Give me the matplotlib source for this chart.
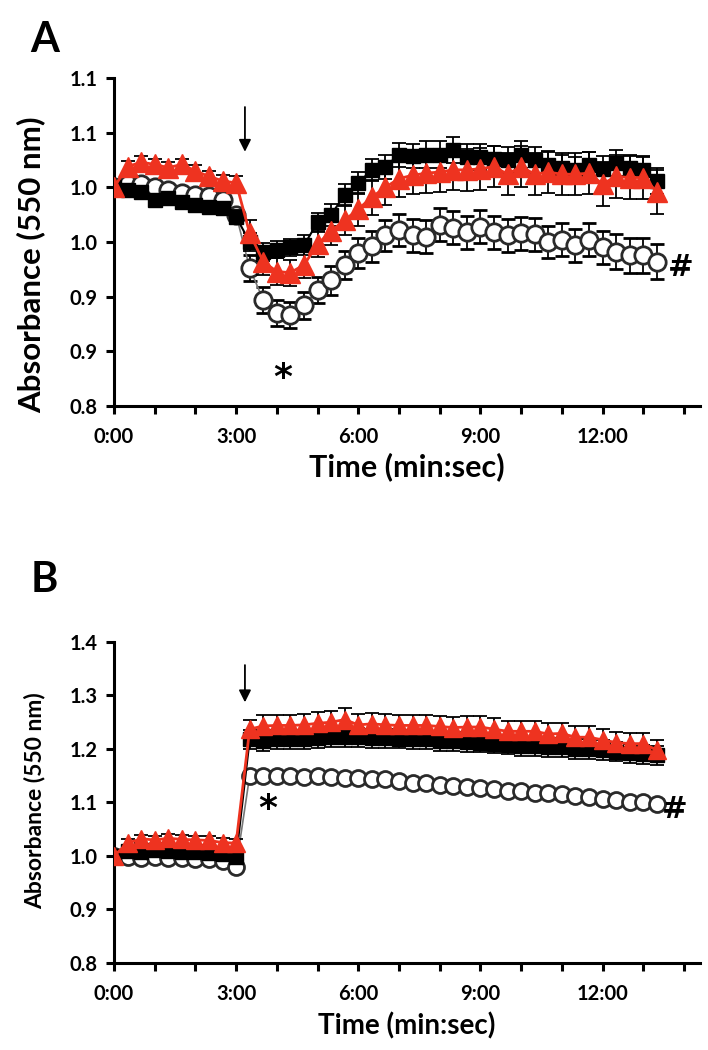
import matplotlib
matplotlib.use("Agg")
import matplotlib.pyplot as plt
import numpy as np
from matplotlib.ticker import MultipleLocator, FuncFormatter, FixedLocator

plt.rcParams['font.family'] = ['Lato', 'DejaVu Sans']
plt.rcParams['font.weight'] = 'bold'

# time in seconds (every 20 s)
time_s = list(range(0, 801, 20))

# ---------- Panel A ----------
a_red = [1.000, 1.019, 1.023, 1.021, 1.018, 1.021, 1.015, 1.010, 1.006, 1.004,
         0.958, 0.932, 0.923, 0.922, 0.929, 0.948, 0.960, 0.970, 0.980, 0.991,
         1.000, 1.008, 1.011, 1.013, 1.014, 1.016, 1.016, 1.017, 1.019, 1.012,
         1.019, 1.012, 1.014, 1.012, 1.012, 1.013, 1.003, 1.010, 1.009, 1.009,
         0.996]
a_red_err = [0.003, 0.005, 0.006, 0.005, 0.005, 0.005, 0.005, 0.005, 0.005, 0.006,
             0.012, 0.012, 0.012, 0.012, 0.012, 0.012, 0.013, 0.014, 0.015, 0.016,
             0.016, 0.017, 0.017, 0.018, 0.018, 0.018, 0.019, 0.019, 0.019, 0.019,
             0.019, 0.019, 0.019, 0.019, 0.019, 0.019, 0.020, 0.020, 0.020, 0.020,
             0.020]
a_black = [1.000, 0.998, 0.996, 0.988, 0.990, 0.987, 0.984, 0.982, 0.981, 0.973,
           0.950, 0.941, 0.943, 0.945, 0.947, 0.968, 0.975, 0.993, 1.004, 1.016,
           1.019, 1.030, 1.029, 1.030, 1.030, 1.034, 1.028, 1.028, 1.026, 1.025,
           1.030, 1.025, 1.020, 1.018, 1.016, 1.020, 1.017, 1.022, 1.018, 1.016,
           1.006]
a_black_err = [0.003, 0.005, 0.005, 0.005, 0.005, 0.005, 0.005, 0.005, 0.006, 0.006,
               0.008, 0.008, 0.008, 0.008, 0.009, 0.009, 0.010, 0.010, 0.010, 0.010,
               0.011, 0.011, 0.011, 0.012, 0.012, 0.012, 0.012, 0.012, 0.012, 0.012,
               0.012, 0.012, 0.012, 0.012, 0.012, 0.012, 0.012, 0.012, 0.012, 0.012,
               0.012]
a_open = [1.000, 1.003, 1.003, 1.000, 0.998, 0.995, 0.993, 0.992, 0.988, 0.975,
          0.926, 0.897, 0.885, 0.883, 0.892, 0.906, 0.915, 0.929, 0.940, 0.946,
          0.956, 0.961, 0.956, 0.955, 0.966, 0.963, 0.959, 0.964, 0.959, 0.956,
          0.958, 0.957, 0.950, 0.952, 0.947, 0.952, 0.945, 0.941, 0.938, 0.938,
          0.932]
a_open_err = [0.003, 0.004, 0.004, 0.004, 0.004, 0.004, 0.004, 0.004, 0.005, 0.005,
              0.012, 0.012, 0.012, 0.012, 0.012, 0.012, 0.013, 0.013, 0.014, 0.014,
              0.014, 0.015, 0.015, 0.015, 0.015, 0.015, 0.015, 0.015, 0.015, 0.015,
              0.015, 0.015, 0.015, 0.015, 0.015, 0.015, 0.015, 0.016, 0.016, 0.016,
              0.016]

# ---------- Panel B ----------
b_red = [1.000, 1.024, 1.032, 1.030, 1.033, 1.031, 1.030, 1.029, 1.025, 1.024,
         1.237, 1.243, 1.244, 1.244, 1.245, 1.248, 1.250, 1.255, 1.245, 1.247,
         1.245, 1.244, 1.244, 1.244, 1.242, 1.240, 1.241, 1.241, 1.237, 1.233,
         1.233, 1.233, 1.228, 1.229, 1.222, 1.222, 1.217, 1.212, 1.210, 1.210,
         1.198]
b_red_err = [0.004, 0.008, 0.008, 0.008, 0.008, 0.008, 0.008, 0.008, 0.008, 0.008,
             0.018, 0.020, 0.020, 0.020, 0.020, 0.021, 0.021, 0.022, 0.020, 0.020,
             0.020, 0.020, 0.020, 0.020, 0.020, 0.020, 0.020, 0.020, 0.020, 0.020,
             0.020, 0.020, 0.020, 0.020, 0.020, 0.020, 0.020, 0.020, 0.020, 0.020,
             0.018]
b_black = [1.000, 1.010, 1.008, 1.012, 1.010, 1.008, 1.008, 1.006, 1.003, 0.998,
           1.218, 1.215, 1.218, 1.218, 1.218, 1.220, 1.222, 1.222, 1.222, 1.220,
           1.220, 1.219, 1.218, 1.218, 1.214, 1.214, 1.213, 1.212, 1.210, 1.208,
           1.205, 1.205, 1.203, 1.203, 1.200, 1.200, 1.198, 1.195, 1.192, 1.190,
           1.188]
b_black_err = [0.003, 0.008, 0.008, 0.008, 0.008, 0.008, 0.008, 0.008, 0.008, 0.008,
               0.018, 0.018, 0.018, 0.018, 0.018, 0.018, 0.018, 0.018, 0.018, 0.018,
               0.018, 0.018, 0.018, 0.018, 0.018, 0.018, 0.018, 0.018, 0.018, 0.018,
               0.018, 0.018, 0.018, 0.018, 0.018, 0.018, 0.018, 0.018, 0.018, 0.018,
               0.018]
b_open = [1.000, 0.998, 0.997, 0.998, 0.997, 0.996, 0.995, 0.994, 0.990, 0.980,
          1.150, 1.150, 1.150, 1.150, 1.148, 1.149, 1.148, 1.146, 1.146, 1.143,
          1.143, 1.140, 1.137, 1.136, 1.133, 1.130, 1.128, 1.127, 1.125, 1.122,
          1.121, 1.118, 1.117, 1.115, 1.112, 1.110, 1.106, 1.104, 1.101, 1.100,
          1.098]
b_open_err = [0.003, 0.005, 0.005, 0.005, 0.005, 0.005, 0.005, 0.005, 0.005, 0.005,
              0.008, 0.008, 0.008, 0.008, 0.008, 0.008, 0.008, 0.008, 0.008, 0.008,
              0.008, 0.008, 0.008, 0.008, 0.008, 0.008, 0.008, 0.008, 0.008, 0.008,
              0.008, 0.008, 0.008, 0.008, 0.008, 0.008, 0.008, 0.008, 0.008, 0.008,
              0.008]

x_tick_labels = ["0:00", "3:00", "6:00", "9:00", "12:00"]
RED = "#ee3320"

fig = plt.figure(figsize=(7.08, 10.5), dpi=100)
axA = fig.add_axes([0.161, 0.6133, 0.828, 0.3124])
axB = fig.add_axes([0.161, 0.0829, 0.828, 0.3057])


def draw(ax, red, red_err, black, black_err, opn, opn_err, ms_scale=1.0):
    t = np.array(time_s)
    ax.errorbar(t, opn, yerr=opn_err, fmt='-', color='#777777', lw=1.2,
                ecolor='black', elinewidth=1.3, capsize=5, capthick=1.3,
                marker='o', ms=12.5 * ms_scale, mfc='white', mec='#2a2a2a',
                mew=2.0, zorder=2)
    ax.errorbar(t, black, yerr=black_err, fmt='-', color='black', lw=1.5,
                ecolor='black', elinewidth=1.3, capsize=5, capthick=1.3,
                marker='s', ms=10.5 * ms_scale, mfc='black', mec='black', zorder=3)
    ax.errorbar(t, red, yerr=red_err, fmt='-', color=RED, lw=2.0,
                ecolor='black', elinewidth=1.3, capsize=5, capthick=1.3,
                marker='^', ms=14 * ms_scale, mfc=RED, mec=RED, zorder=4)


def style(ax, ylo, yhi, ystep, fs_lab, xpad):
    for s in ['top', 'right']:
        ax.spines[s].set_visible(False)
    for s in ['left', 'bottom']:
        ax.spines[s].set_linewidth(2.2)
    ax.set_xlim(0, 864)
    ax.set_ylim(ylo, yhi)
    ax.xaxis.set_major_locator(MultipleLocator(60))
    ax.xaxis.set_major_formatter(FuncFormatter(
        lambda v, p: x_tick_labels[int(round(v / 180))] if (int(round(v)) % 180 == 0 and int(round(v / 180)) < len(x_tick_labels)) else ""))
    yt = np.arange(ylo, yhi + 1e-9, ystep)
    ax.yaxis.set_major_locator(FixedLocator(yt))
    ax.yaxis.set_major_formatter(FuncFormatter(lambda v, p: "%.1f" % (v + 1e-9)))
    ax.tick_params(axis='both', direction='out', length=6, width=2.2,
                   labelsize=14.5)
    ax.tick_params(axis='x', pad=9)
    ax.tick_params(axis='y', pad=6)
    ax.set_xlabel("Time (min:sec)", fontsize=fs_lab, fontweight='bold', labelpad=xpad)


draw(axA, a_red, a_red_err, a_black, a_black_err, a_open, a_open_err)
style(axA, 0.8, 1.1, 0.05, 22, 4)
axA.set_ylabel("Absorbance (550 nm)", fontsize=22.5, fontweight='bold')
axA.yaxis.set_label_coords(-0.117, 0.43)
axA.annotate("", xy=(193, 1.030), xytext=(193, 1.076),
             arrowprops=dict(arrowstyle='-|>', color='black', lw=1.3, mutation_scale=18))
axA.text(249, 0.826, "*", fontsize=26, fontweight='bold', ha='center', va='center',
         family='DejaVu Sans')
axA.text(836, 0.927, "#", fontsize=22, fontweight='bold', ha='center', va='center',
         family='DejaVu Sans')
fig.text(0.063, 0.962, "A", fontsize=30, fontweight='bold', ha='center', va='center')

draw(axB, b_red, b_red_err, b_black, b_black_err, b_open, b_open_err, ms_scale=0.92)
style(axB, 0.8, 1.4, 0.1, 20, 6)
axB.set_ylabel("Absorbance (550 nm)", fontsize=16.5, fontweight='bold')
axB.yaxis.set_label_coords(-0.117, 0.505)
axB.annotate("", xy=(193, 1.282), xytext=(193, 1.362),
             arrowprops=dict(arrowstyle='-|>', color='black', lw=1.3, mutation_scale=18))
axB.text(226, 1.088, "*", fontsize=26, fontweight='bold', ha='center', va='center',
         family='DejaVu Sans')
axB.text(826, 1.086, "#", fontsize=22, fontweight='bold', ha='center', va='center',
         family='DejaVu Sans')
fig.text(0.063, 0.448, "B", fontsize=30, fontweight='bold', ha='center', va='center')

fig.savefig("out.png", dpi=100)
